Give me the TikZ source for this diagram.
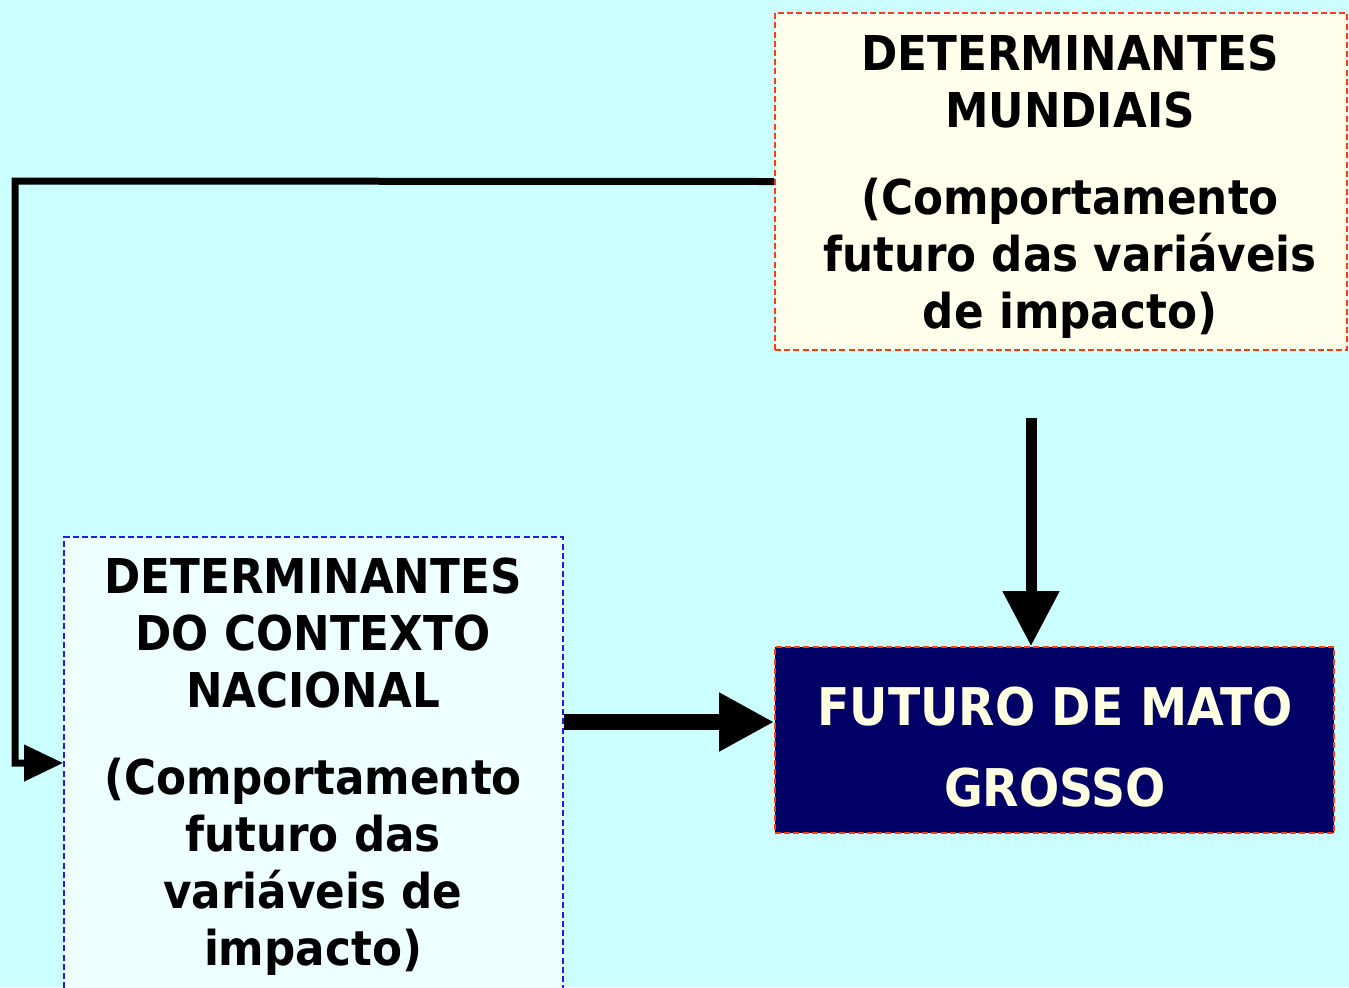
\documentclass[tikz,border=0pt]{standalone}
\usepackage{fontspec}
\setmainfont{DejaVu Sans}[FakeStretch=0.91]
\usetikzlibrary{arrows.meta}
\definecolor{bgcyan}{RGB}{204,255,255}
\definecolor{topfill}{RGB}{255,255,235}
\definecolor{leftfill}{RGB}{238,255,255}
\definecolor{navybox}{RGB}{0,0,102}
\definecolor{redborder}{RGB}{255,60,20}
\definecolor{blueborder}{RGB}{30,30,230}
\definecolor{creamtext}{RGB}{255,255,226}
\tikzset{
  box/.style={rectangle, inner sep=0pt, line width=0.8pt, dash pattern=on 3pt off 1.6pt},
  boxtext/.style={inner sep=0pt, anchor=north, align=center, font=\fontsize{24}{28.5}\selectfont\bfseries},
  conn/.style={line width=3.5pt, line join=miter, -{Triangle[length=19.5pt,width=17.5pt]}},
  bigh/.style={line width=8pt, -{Triangle[length=27.5pt,width=27.5pt]}},
  bigv/.style={line width=5.5pt, -{Triangle[length=27.5pt,width=27pt]}}
}
\begin{document}
\begin{tikzpicture}[x=0.5pt,y=-0.5pt]
\fill[bgcyan] (0,0) rectangle (1349,987);
\useasboundingbox (0,0) rectangle (1349,987);
% boxes
\node[box, draw=redborder, fill=topfill, minimum width=286pt, minimum height=168.5pt] (top) at (1061,181.5) {};
\node[box, draw=blueborder, fill=leftfill, minimum width=249.5pt, minimum height=226pt] (left) at (313.5,763) {};
\node[box, draw=redborder, fill=navybox, minimum width=279.5pt, minimum height=93pt] (fut) at (1054.5,740) {};
% texts
\node[boxtext] (toptext) at (1070,34) {DETERMINANTES\\MUNDIAIS\\[15pt](Comportamento\\futuro das variáveis\\de impacto)};
\node[boxtext] (lefttext) at (313,557) {DETERMINANTES\\DO CONTEXTO\\NACIONAL\\[15pt](Comportamento\\futuro das\\variáveis de\\impacto)};
\node[boxtext, text=creamtext, font=\fontsize{26}{40.5}\selectfont\bfseries] (futtext) at (1055,686) {FUTURO DE MATO\\GROSSO};
% connectors
\coordinate (bend) at (15,181);
\draw[conn] (top.west) -- (bend) |- (left.west);
\coordinate (hy) at (0,722);
\draw[bigh] (left.east |- hy) -- (fut.west |- hy);
\coordinate (vs) at (1031,418);
\draw[bigv] (vs) -- (vs |- fut.north);
\end{tikzpicture}
\end{document}
